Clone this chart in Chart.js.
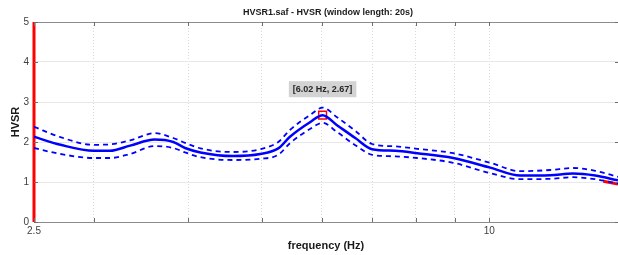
<!DOCTYPE html>
<html>
<head>
<meta charset="utf-8">
<script src="https://cdn.jsdelivr.net/npm/chart.js@4"></script>
<style>
  html, body { margin: 0; padding: 0; background: #fff; overflow: hidden; }
  canvas { display: block; }
</style>
</head>
<body>
<canvas id="hvsr" width="618" height="255"></canvas>
<script>
// frequency samples (Hz)
const freqs = [2.5, 2.71, 3.0, 3.15, 3.35, 3.61, 3.82, 3.96, 4.15, 4.58, 4.98, 5.26, 5.45, 5.8, 6.02,
  6.29, 6.65, 7.0, 7.51, 8.03, 8.96, 10.03, 10.99, 12.04, 12.91, 13.81, 14.8];
const hvsrMean = [2.13, 1.93, 1.78, 1.78, 1.91, 2.06, 2.0, 1.85, 1.74, 1.65, 1.7, 1.84, 2.13, 2.5, 2.67,
  2.42, 2.1, 1.82, 1.78, 1.72, 1.6, 1.36, 1.16, 1.17, 1.21, 1.16, 1.04];
const hvsrUpper = [2.38, 2.12, 1.93, 1.94, 2.04, 2.22, 2.1, 1.98, 1.84, 1.75, 1.82, 2.0, 2.3, 2.68, 2.86,
  2.62, 2.28, 1.95, 1.89, 1.83, 1.72, 1.48, 1.27, 1.3, 1.35, 1.28, 1.13];
const hvsrLower = [1.85, 1.7, 1.6, 1.6, 1.7, 1.9, 1.85, 1.74, 1.62, 1.55, 1.58, 1.68, 1.97, 2.33, 2.48,
  2.25, 1.92, 1.68, 1.64, 1.6, 1.48, 1.22, 1.07, 1.08, 1.12, 1.07, 0.96];

// peak
const peakFreq = 6.02;
const peakAmp = 2.67;

// red limit marks
const leftLimitX = [2.5, 2.5];
const leftLimitY = [0, 5];
const rightLimitX = [14.15, 14.8];
const rightLimitY = [1.02, 0.95];

const xTicks = [2.5, 3, 4, 5, 6, 7, 8, 9, 10];
const xLabels = ["2.5", "10"];
const yTicks = [0, 1, 2, 3, 4, 5];

const FONT = "'Liberation Sans', Arial, Helvetica, sans-serif";
const BLUE = "#0000ff";

function pts(xs, ys) {
  return xs.map((x, i) => ({ x: x, y: ys[i] }));
}

const decorations = {
  id: "decorations",
  afterDraw(chart) {
    const ctx = chart.ctx;
    const a = chart.chartArea;
    const xs = chart.scales.x;
    const ys = chart.scales.y;
    ctx.save();

    // axis box (right side is outside the picture)
    ctx.strokeStyle = "#8c8c8c";
    ctx.lineWidth = 1;
    ctx.beginPath();
    ctx.moveTo(a.left, a.top + 0.5);
    ctx.lineTo(a.right, a.top + 0.5);
    ctx.moveTo(a.left, a.bottom + 0.5);
    ctx.lineTo(a.right, a.bottom + 0.5);
    ctx.stroke();

    // inward tick marks
    ctx.strokeStyle = "#6e6e6e";
    ctx.beginPath();
    xTicks.forEach(v => {
      const px = Math.round(xs.getPixelForValue(v)) + 0.5;
      ctx.moveTo(px, a.bottom);
      ctx.lineTo(px, a.bottom - 4);
      ctx.moveTo(px, a.top);
      ctx.lineTo(px, a.top + 4);
    });
    yTicks.forEach(v => {
      const py = Math.round(ys.getPixelForValue(v)) + 0.5;
      ctx.moveTo(a.left, py);
      ctx.lineTo(a.left + 4, py);
      ctx.moveTo(a.right, py);
      ctx.lineTo(a.right - 3, py);
    });
    ctx.stroke();

    // titles
    ctx.fillStyle = "#1a1a1a";
    ctx.textAlign = "center";
    ctx.textBaseline = "middle";
    ctx.font = "bold 9px " + FONT;
    ctx.fillText("HVSR1.saf - HVSR (window length: 20s)", (a.left + a.right) / 2 + 2, 13);
    ctx.font = "bold 11px " + FONT;
    ctx.fillText("frequency (Hz)", (a.left + a.right) / 2, 246);
    ctx.save();
    ctx.translate(16, (a.top + a.bottom) / 2);
    ctx.rotate(-Math.PI / 2);
    ctx.fillText("HVSR", 0, 0);
    ctx.restore();

    // peak label
    const px = xs.getPixelForValue(peakFreq);
    const py = ys.getPixelForValue(peakAmp) - 26;
    const text = "[" + peakFreq.toFixed(2) + " Hz, " + peakAmp.toFixed(2) + "]";
    ctx.font = "bold 9px " + FONT;
    const w = ctx.measureText(text).width + 8;
    ctx.fillStyle = "#d3d3d3";
    ctx.fillRect(px - w / 2, py - 8, w, 16);
    ctx.fillStyle = "#262626";
    ctx.fillText(text, px, py + 0.5);
    ctx.restore();
  }
};

new Chart(document.getElementById("hvsr"), {
  type: "line",
  data: {
    datasets: [
      {
        data: pts(freqs, hvsrUpper),
        borderColor: BLUE,
        borderWidth: 1.8,
        borderDash: [5, 4],
        pointRadius: 0,
        cubicInterpolationMode: "monotone",
      },
      {
        data: pts(freqs, hvsrLower),
        borderColor: BLUE,
        borderWidth: 1.8,
        borderDash: [5, 4],
        pointRadius: 0,
        cubicInterpolationMode: "monotone",
      },
      {
        data: pts(freqs, hvsrMean),
        borderColor: BLUE,
        borderWidth: 2.5,
        pointRadius: 0,
        cubicInterpolationMode: "monotone",
      },
      {
        data: pts(rightLimitX, rightLimitY),
        borderColor: "#ff0000",
        borderWidth: 3,
        pointRadius: 0,
      },
      {
        data: pts(leftLimitX, leftLimitY),
        borderColor: "#ff0000",
        borderWidth: 3,
        pointRadius: 0,
        clip: false,
      },
      {
        data: [{ x: peakFreq, y: peakAmp }],
        showLine: false,
        pointStyle: "rect",
        pointRadius: 5.5,
        pointBorderColor: "#ff0000",
        pointBackgroundColor: "rgba(0,0,0,0)",
        pointBorderWidth: 1.5,
      },
    ],
  },
  options: {
    responsive: false,
    animation: false,
    devicePixelRatio: 1,
    layout: { autoPadding: false, padding: { top: 22, right: 0, left: 0, bottom: 0 } },
    plugins: {
      legend: { display: false },
      tooltip: { enabled: false },
    },
    scales: {
      x: {
        type: "logarithmic",
        min: 2.5,
        max: 14.8,
        afterBuildTicks: (scale) => {
          scale.ticks = xTicks.map(v => ({ value: v }));
        },
        afterFit: (scale) => {
          scale.height = 33;
        },
        ticks: {
          autoSkip: false,
          maxRotation: 0,
          padding: 3,
          color: "#404040",
          font: { family: FONT, size: 10 },
          callback: (v) => {
            const s = String(v);
            return xLabels.includes(s) ? s : "";
          },
        },
        grid: { color: "#d9d9d9", drawTicks: false, lineWidth: 1 },
        border: { display: false, dash: [1, 2] },
      },
      y: {
        min: 0,
        max: 5,
        afterFit: (scale) => {
          scale.width = 34;
        },
        ticks: {
          stepSize: 1,
          padding: 5,
          color: "#404040",
          font: { family: FONT, size: 10 },
        },
        grid: { color: "#e8e8e8", drawTicks: false, lineWidth: 1 },
        border: { display: false },
      },
    },
  },
  plugins: [decorations],
});
</script>
</body>
</html>
